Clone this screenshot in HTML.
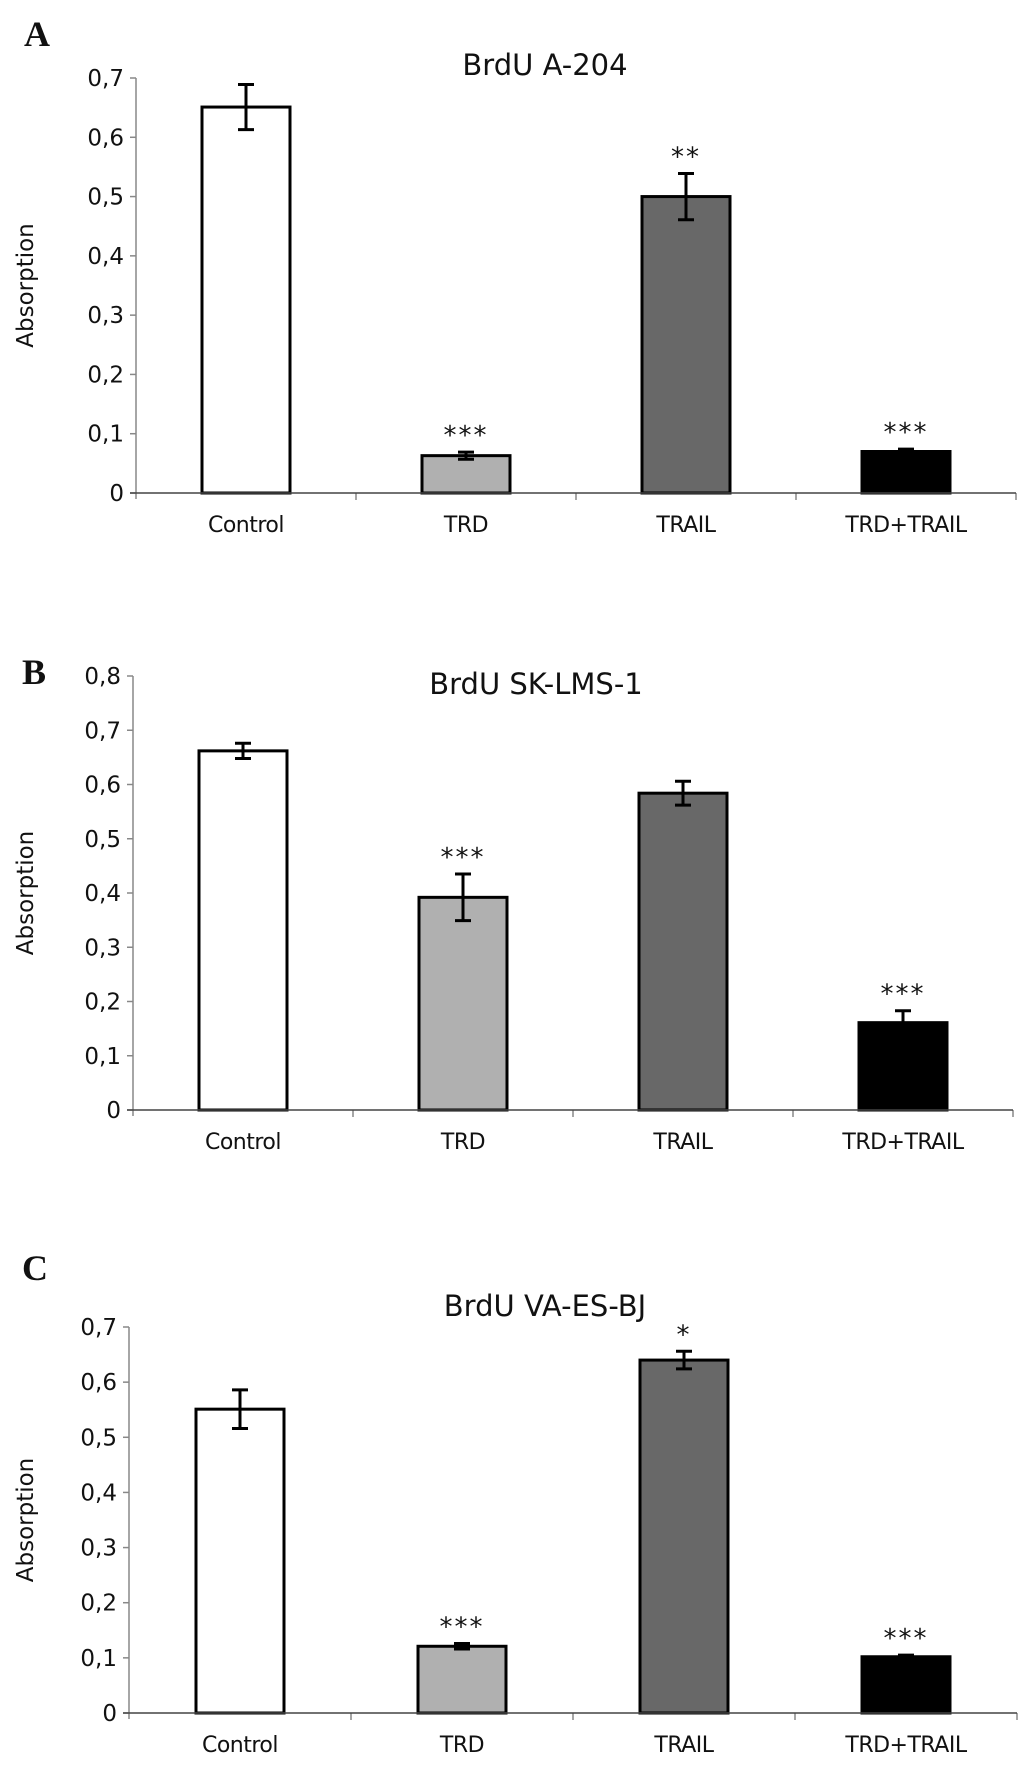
<!DOCTYPE html>
<html><head><meta charset="utf-8"><style>
html,body{margin:0;padding:0;background:#fff;}
svg{display:block;}
text{font-family:"DejaVu Sans","Liberation Sans",sans-serif;fill:#111;}
.letter{font-family:"Liberation Serif",serif;font-weight:bold;font-size:36px;}
</style></head><body>
<svg id="fig" width="1033" height="1780" viewBox="0 0 1033 1780" xmlns="http://www.w3.org/2000/svg"></svg>
<script>
const categories = ["Control","TRD","TRAIL","TRD+TRAIL"];
const fills = ["#ffffff","#b0b0b0","#686868","#000000"];
const titles = ["BrdU A-204","BrdU SK-LMS-1","BrdU VA-ES-BJ"];
const panelLetters = ["A","B","C"];
const valuesA = [0.651, 0.063, 0.500, 0.070];
const errorsA = [0.038, 0.006, 0.039, 0.004];
const starsA = ["", "***", "**", "***"];
const valuesB = [0.662, 0.392, 0.584, 0.161];
const errorsB = [0.014, 0.043, 0.022, 0.022];
const starsB = ["", "***", "", "***"];
const valuesC = [0.551, 0.121, 0.640, 0.102];
const errorsC = [0.035, 0.005, 0.016, 0.003];
const starsC = ["", "***", "*", "***"];
const ticksA = [0,0.1,0.2,0.3,0.4,0.5,0.6,0.7];
const ticksB = [0,0.1,0.2,0.3,0.4,0.5,0.6,0.7,0.8];
const ticksC = [0,0.1,0.2,0.3,0.4,0.5,0.6,0.7];

const NS="http://www.w3.org/2000/svg";
const svg=document.getElementById('fig');
function mk(tag,attrs,parent){const e=document.createElementNS(NS,tag);for(const k in attrs)e.setAttribute(k,attrs[k]);(parent||svg).appendChild(e);return e;}

function drawChart(idx, vals, errs, stars, ticks, L){
  const g=mk('g',{});
  
  
  const ymax=ticks[ticks.length-1];
  const y=v=>L.y0-(v/ymax)*(L.y0-L.ytop);
  const cw=(L.x1-L.x0)/categories.length;
  const xc=i=>L.x0+cw*(i+0.5);
  const lt=mk('text',{x:L.lx,y:L.ly,class:'letter'},g);lt.textContent=panelLetters[idx];
  
  
  const t=mk('text',{x:L.tx,y:L.ty,'text-anchor':'middle','font-size':29},g);t.textContent=titles[idx];
  
  
  const yl=mk('text',{x:0,y:0,'text-anchor':'middle','font-size':23,transform:`translate(33,${(L.y0+L.ytop)/2}) rotate(-90)`},g);yl.textContent='Absorption';
  
  
  const ya=mk('line',{x1:L.x0,y1:L.ytop,x2:L.x0,y2:L.y0+6,stroke:'#888','stroke-width':1.5},g);
  
  
  ticks.forEach(tv=>{
    mk('line',{x1:L.x0-6,y1:y(tv),x2:L.x0,y2:y(tv),stroke:'#888','stroke-width':1.5},g);
    const tl=mk('text',{x:L.x0-12,y:y(tv)+8,'text-anchor':'end','font-size':23},g);
    tl.textContent=tv===0?'0':tv.toFixed(1).replace('.',',');
    
    
  });
  categories.forEach((c,i)=>{
    const bx=xc(i)-44, by=y(vals[i]);
    const r=mk('rect',{x:bx,y:by,width:88,height:L.y0-by,fill:fills[i],stroke:'#000','stroke-width':3},g);
    
    
    const e1=y(vals[i]+errs[i]), e2=y(vals[i]-errs[i]);
    const eb=mk('path',{d:`M${xc(i)},${e1}V${e2}M${xc(i)-8},${e1}H${xc(i)+8}M${xc(i)-8},${e2}H${xc(i)+8}`,stroke:'#000','stroke-width':3,fill:'none'},g);
    
    
    if(stars[i]){
      const st=mk('text',{x:xc(i),y:e1-8,'text-anchor':'middle','font-size':26,'letter-spacing':2},g);
      st.textContent=stars[i];
      
      
    }
    const cl=mk('text',{x:xc(i),y:L.y0+39,'text-anchor':'middle','font-size':22,'letter-spacing':-0.5},g);cl.textContent=c;
    
    
    if(i>0) mk('line',{x1:L.x0+cw*i,y1:L.y0,x2:L.x0+cw*i,y2:L.y0+7,stroke:'#888','stroke-width':1.5},g);
  });
  mk('line',{x1:L.x1,y1:L.y0,x2:L.x1,y2:L.y0+7,stroke:'#888','stroke-width':1.5},g);
  const xa=mk('line',{x1:L.x0-6,y1:L.y0,x2:L.x1,y2:L.y0,stroke:'#444','stroke-width':1.5},g);
  
  
}
drawChart(0,valuesA,errorsA,starsA,ticksA,{x0:136,x1:1016,ytop:78,y0:493,lx:24,ly:46,tx:545,ty:75});
drawChart(1,valuesB,errorsB,starsB,ticksB,{x0:133,x1:1013,ytop:676,y0:1110,lx:22,ly:684,tx:536,ty:694});
drawChart(2,valuesC,errorsC,starsC,ticksC,{x0:129,x1:1017,ytop:1327,y0:1713,lx:22,ly:1280,tx:545,ty:1316});
</script>
</body></html>
